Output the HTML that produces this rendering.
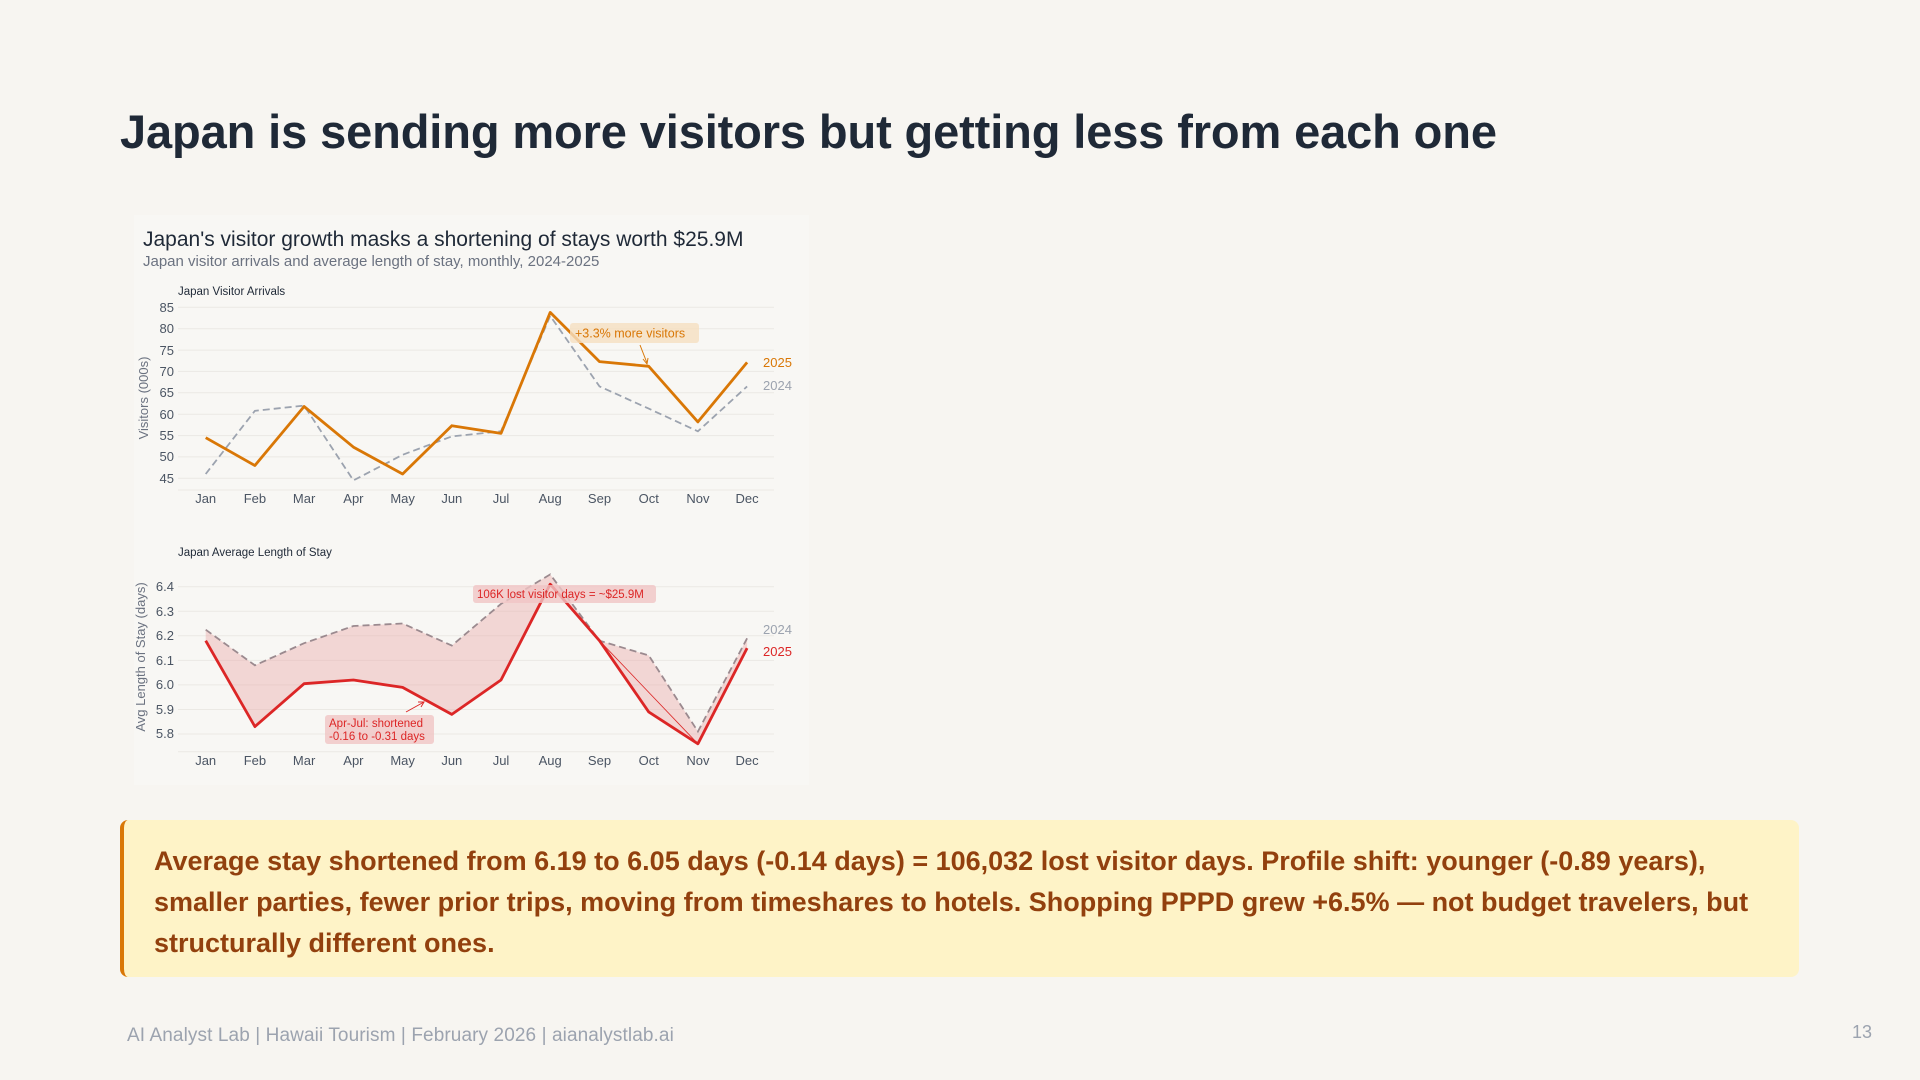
<!DOCTYPE html>
<html><head><meta charset="utf-8"><style>
body{margin:0;width:1920px;height:1080px;background:#f7f5f1;font-family:"Liberation Sans",sans-serif;overflow:hidden;position:relative}
h1{position:absolute;left:120px;top:104px;margin:0;font-size:47px;font-weight:bold;color:#1f2937;letter-spacing:-0.12px;white-space:nowrap}
.box{position:absolute;left:120px;top:820px;width:1679px;height:157px;background:#fef3c7;border-left:4px solid #d97706;border-radius:8px;box-sizing:border-box;padding:21px 30px;color:#92400e;font-weight:bold;font-size:27px;line-height:41px}
.foot{position:absolute;left:127px;top:1025px;font-size:19px;color:#9ca3af;letter-spacing:0.1px}
.pn{position:absolute;left:1852px;top:1022px;font-size:18px;color:#9ca3af}
</style></head><body>
<h1>Japan is sending more visitors but getting less from each one</h1>
<svg width="1920" height="1080" style="position:absolute;left:0;top:0" font-family="Liberation Sans, sans-serif">
<rect x="134" y="215" width="675" height="570" fill="#f8f7f4"/>
<text x="143" y="246" font-size="21" fill="#1f2937">Japan's visitor growth masks a shortening of stays worth $25.9M</text>
<text x="143" y="266" font-size="15" fill="#6b7280">Japan visitor arrivals and average length of stay, monthly, 2024-2025</text>
<text x="178" y="295" font-size="11.5" fill="#1f2937">Japan Visitor Arrivals</text>
<text x="178" y="556" font-size="11.5" fill="#1f2937">Japan Average Length of Stay</text>
<g stroke="#ebe9e4" stroke-width="1">
<line x1="178" x2="774" y1="307.3" y2="307.3"/><line x1="178" x2="774" y1="328.7" y2="328.7"/><line x1="178" x2="774" y1="350.1" y2="350.1"/><line x1="178" x2="774" y1="371.4" y2="371.4"/><line x1="178" x2="774" y1="392.8" y2="392.8"/><line x1="178" x2="774" y1="414.2" y2="414.2"/><line x1="178" x2="774" y1="435.6" y2="435.6"/><line x1="178" x2="774" y1="456.9" y2="456.9"/><line x1="178" x2="774" y1="478.3" y2="478.3"/>
<line x1="178" x2="774" y1="586.7" y2="586.7"/><line x1="178" x2="774" y1="611.3" y2="611.3"/><line x1="178" x2="774" y1="635.8" y2="635.8"/><line x1="178" x2="774" y1="660.4" y2="660.4"/><line x1="178" x2="774" y1="684.9" y2="684.9"/><line x1="178" x2="774" y1="709.5" y2="709.5"/><line x1="178" x2="774" y1="734" y2="734"/>
<line x1="178" x2="774" y1="490" y2="490"/><line x1="178" x2="774" y1="751.7" y2="751.7"/>
</g>
<g font-size="13" fill="#4b5563" text-anchor="end">
<text x="174" y="312">85</text><text x="174" y="333">80</text><text x="174" y="355">75</text><text x="174" y="376">70</text><text x="174" y="397">65</text><text x="174" y="419">60</text><text x="174" y="440">55</text><text x="174" y="461">50</text><text x="174" y="483">45</text>
<text x="174" y="591">6.4</text><text x="174" y="616">6.3</text><text x="174" y="640">6.2</text><text x="174" y="665">6.1</text><text x="174" y="689">6.0</text><text x="174" y="714">5.9</text><text x="174" y="738">5.8</text>
</g>
<g font-size="13" fill="#4b5563" text-anchor="middle">
<text x="205.7" y="503">Jan</text><text x="254.9" y="503">Feb</text><text x="304.1" y="503">Mar</text><text x="353.4" y="503">Apr</text><text x="402.6" y="503">May</text><text x="451.8" y="503">Jun</text><text x="501" y="503">Jul</text><text x="550.2" y="503">Aug</text><text x="599.5" y="503">Sep</text><text x="648.7" y="503">Oct</text><text x="697.9" y="503">Nov</text><text x="747.1" y="503">Dec</text>
<text x="205.7" y="765">Jan</text><text x="254.9" y="765">Feb</text><text x="304.1" y="765">Mar</text><text x="353.4" y="765">Apr</text><text x="402.6" y="765">May</text><text x="451.8" y="765">Jun</text><text x="501" y="765">Jul</text><text x="550.2" y="765">Aug</text><text x="599.5" y="765">Sep</text><text x="648.7" y="765">Oct</text><text x="697.9" y="765">Nov</text><text x="747.1" y="765">Dec</text>
</g>
<text transform="translate(148,398) rotate(-90)" font-size="13" fill="#6b7280" text-anchor="middle">Visitors (000s)</text>
<text transform="translate(145,657) rotate(-90)" font-size="13" fill="#6b7280" text-anchor="middle">Avg Length of Stay (days)</text>
<polyline fill="none" stroke="#9ca3af" stroke-width="1.8" stroke-dasharray="7,4" points="205.7,474 254.9,410.8 304.1,405.6 353.4,480.4 402.6,454.8 451.8,436.4 501,431.3 550.2,315.9 599.5,386.4 648.7,408.6 697.9,431.3 747.1,386.4"/>
<polyline fill="none" stroke="#d97706" stroke-width="2.8" stroke-linejoin="round" points="205.7,437.7 254.9,465.5 304.1,406.5 353.4,447.1 402.6,474 451.8,425.7 501,433.4 550.2,312.4 599.5,361.6 648.7,366.3 697.9,421.9 747.1,362.4"/>
<rect x="570" y="323" width="129" height="20" rx="3" fill="#f5dfc0" opacity="0.8"/>
<text x="575" y="337.5" font-size="12.5" fill="#d97706">+3.3% more visitors</text>
<line x1="640" y1="345" x2="647" y2="363" stroke="#d97706" stroke-width="1"/>
<path d="M643,359 L647,364 L648,358" fill="none" stroke="#d97706" stroke-width="1"/>
<text x="763" y="367" font-size="13" fill="#d97706">2025</text>
<text x="763" y="390" font-size="13" fill="#9ca3af">2024</text>
<polygon fill="#e8a4a4" opacity="0.4" points="205.7,629.7 254.9,665.3 304.1,643.2 353.4,626 402.6,623.5 451.8,645.6 501,603.9 550.2,574.4 599.5,640.7 648.7,655.4 697.9,731.5 747.1,638.3 747.1,648.1 697.9,743.8 648.7,711.9 599.5,640.7 550.2,584.2 501,680 451.8,714.4 402.6,687.4 353.4,680 304.1,683.7 254.9,726.6 205.7,640.7"/>
<polyline fill="none" stroke="#9b8a8f" stroke-width="1.8" stroke-dasharray="7,4" points="205.7,629.7 254.9,665.3 304.1,643.2 353.4,626 402.6,623.5 451.8,645.6 501,603.9 550.2,574.4 599.5,640.7 648.7,655.4 697.9,731.5 747.1,638.3"/>
<polyline fill="none" stroke="#dc2626" stroke-width="2.8" stroke-linejoin="round" points="205.7,640.7 254.9,726.6 304.1,683.7 353.4,680 402.6,687.4 451.8,714.4 501,680 550.2,584.2 599.5,640.7 648.7,711.9 697.9,743.8 747.1,648.1"/>
<line x1="599.5" y1="640.7" x2="697.9" y2="743.8" stroke="#dc2626" stroke-width="0.8"/>
<rect x="473" y="585" width="183" height="18" rx="3" fill="#f0c4c4" opacity="0.8"/>
<text x="477" y="598" font-size="11.5" fill="#dc2626">106K lost visitor days = ~$25.9M</text>
<rect x="325" y="715" width="109" height="29" rx="3" fill="#f0c4c4" opacity="0.8"/>
<text x="329" y="727" font-size="11.5" fill="#dc2626">Apr-Jul: shortened</text>
<text x="329" y="740" font-size="11.5" fill="#dc2626">-0.16 to -0.31 days</text>
<line x1="406" y1="712" x2="424" y2="702" stroke="#dc2626" stroke-width="1"/>
<path d="M418,702 L424,702 L421,707" fill="none" stroke="#dc2626" stroke-width="1"/>
<text x="763" y="634" font-size="13" fill="#9ca3af">2024</text>
<text x="763" y="656" font-size="13" fill="#dc2626">2025</text>
</svg>
<div class="box">Average stay shortened from 6.19 to 6.05 days (-0.14 days) = 106,032 lost visitor days. Profile shift: younger (-0.89 years), smaller parties, fewer prior trips, moving from timeshares to hotels. Shopping PPPD grew +6.5% — not budget travelers, but structurally different ones.</div>
<div class="foot">AI Analyst Lab | Hawaii Tourism | February 2026 | aianalystlab.ai</div>
<div class="pn">13</div>
</body></html>
